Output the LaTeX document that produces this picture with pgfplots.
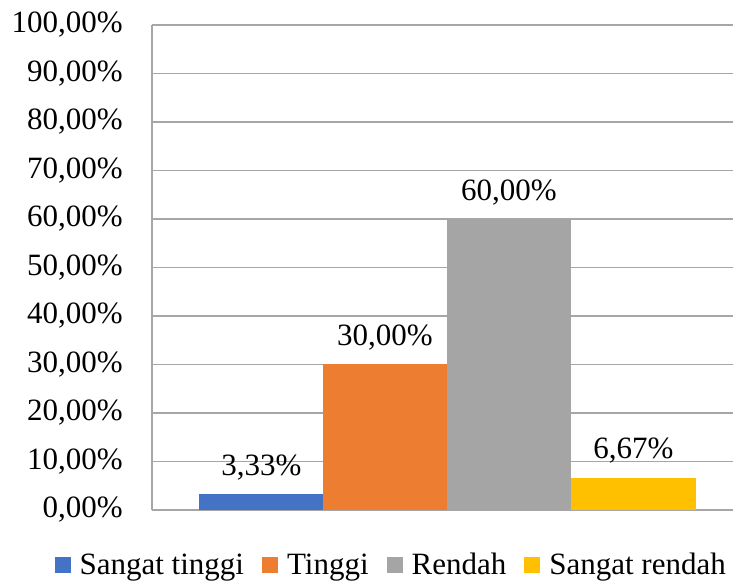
\documentclass[border=0pt]{standalone}
\usepackage{pgfplots}
\pgfplotsset{compat=1.18}
\usepackage{fontspec}
\setmainfont{Liberation Serif}
\definecolor{cblue}{HTML}{4472C4}
\definecolor{corange}{HTML}{ED7D31}
\definecolor{cgray}{HTML}{A5A5A5}
\definecolor{cyellow}{HTML}{FFC000}
\definecolor{gridc}{HTML}{A6A6A6}
\begin{document}
\begin{tikzpicture}
\useasboundingbox (-114pt,-54pt) rectangle (435.75pt,382.5pt);
\begin{axis}[
  at={(0pt,0pt)}, anchor=south west,
  scale only axis,
  width=435.75pt, height=363.75pt,
  xmin=152, xmax=733, ymin=0, ymax=100,
  axis x line=bottom, axis y line=left,
  axis line style={-, draw=gridc, line width=1pt},
  xtick=\empty,
  ytick={0,10,20,30,40,50,60,70,80,90,100},
  yticklabels={{0,00\%},{10,00\%},{20,00\%},{30,00\%},{40,00\%},{50,00\%},{60,00\%},{70,00\%},{80,00\%},{90,00\%},{100,00\%}},
  major tick length=0pt,
  ymajorgrids,
  grid style={draw=gridc, line width=1pt},
  yticklabel style={anchor=east, inner sep=0pt, xshift=-21.75pt, font=\fontsize{23.25}{28}\selectfont},
  ybar, bar width=124, bar shift=0pt,
  point meta=explicit symbolic,
  nodes near coords,
  every node near coord/.append style={anchor=base, inner sep=0pt, yshift=14pt, font=\fontsize{23.25}{28}\selectfont, text=black},
  legend columns=4,
  legend style={at={(0.41,-0.1134)}, anchor=center, draw=none, fill=none,
    inner sep=0pt, column sep=0pt, nodes={inner sep=0pt},
    font=\fontsize{23.25}{28}\selectfont,
    /tikz/every odd column/.append style={column sep=6.75pt},
    /tikz/every even column/.append style={column sep=13.5pt}},
  legend image code/.code={\fill[#1] (0pt,-6pt) rectangle (12pt,6pt);},
]
\addplot[fill=cblue, draw=none] coordinates {(261.5,3.33) [3,33\%]};
\addplot[fill=corange, draw=none] coordinates {(385,30) [30,00\%]};
\addplot[fill=cgray, draw=none] coordinates {(509,60) [60,00\%]};
\addplot[fill=cyellow, draw=none] coordinates {(633.5,6.67) [6,67\%]};
\legend{Sangat tinggi, Tinggi, Rendah, Sangat rendah}
\end{axis}
\end{tikzpicture}
\end{document}
